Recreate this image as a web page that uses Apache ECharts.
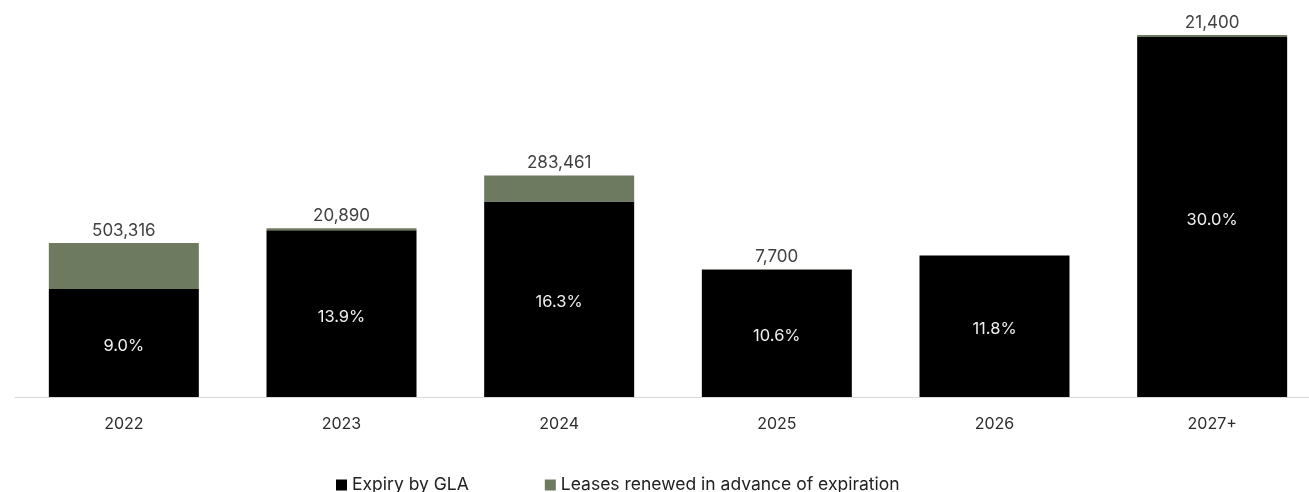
<!DOCTYPE html>
<html>
<head>
<meta charset="utf-8">
<script src="https://cdn.jsdelivr.net/npm/echarts@6/dist/echarts.min.js"></script>
<style>
  html, body { margin: 0; padding: 0; background: #fff; overflow: hidden; }
  /* the plot area runs a little past the right edge of the page */
  #chart { width: 1331px; height: 492px; }
</style>
</head>
<body>
<div id="chart"></div>
<script>
// Lease expiry schedule by year
const years = ['2022', '2023', '2024', '2025', '2026', '2027+'];
// Share of total GLA expiring each year (%)
const expiryPct = [9.0, 13.9, 16.3, 10.6, 11.8, 30.0];
// GLA already renewed ahead of expiration (sq ft); null where none
const renewedSqft = [503316, 20890, 283461, 7700, null, 21400];
// Portfolio GLA used to express renewed area on the same % scale
const totalGLA = 13100000;

const renewedPct = renewedSqft.map(v => v == null ? 0 : v / totalGLA * 100);

const FONT = 'Inter, "Noto Sans", sans-serif';
const chart = echarts.init(document.getElementById('chart'));

chart.setOption({
  animation: false,
  textStyle: { fontFamily: FONT },
  grid: { left: 15, width: 1306, top: 13, bottom: 95, containLabel: false },
  xAxis: {
    type: 'category',
    data: years,
    axisLine: { lineStyle: { color: '#d9d9d9', width: 1 } },
    axisTick: { show: false },
    axisLabel: { color: '#2b2b2b', fontSize: 16, margin: 19, fontFamily: FONT }
  },
  yAxis: {
    type: 'value',
    min: 0,
    max: 32,
    show: false
  },
  legend: {
    left: 331,
    top: 471,
    icon: 'rect',
    itemWidth: 11,
    itemHeight: 11,
    itemGap: 76,
    textStyle: { color: '#222', fontSize: 17.5, fontFamily: FONT },
    data: ['Expiry by GLA', 'Leases renewed in advance of expiration']
  },
  series: [
    {
      name: 'Expiry by GLA',
      type: 'bar',
      stack: 'gla',
      barWidth: 150,
      itemStyle: { color: '#000000' },
      label: {
        show: true,
        position: 'inside',
        offset: [0, 3],
        color: '#f0f0f0',
        fontSize: 16.5,
        fontFamily: FONT,
        formatter: p => p.value.toFixed(1) + '%'
      },
      data: expiryPct
    },
    {
      name: 'Leases renewed in advance of expiration',
      type: 'bar',
      stack: 'gla',
      barWidth: 150,
      itemStyle: { color: '#6e7a60' },
      label: {
        show: true,
        position: 'top',
        distance: 4,
        color: '#404040',
        fontSize: 17,
        fontFamily: FONT,
        formatter: p => {
          const v = renewedSqft[p.dataIndex];
          return v == null ? '' : v.toLocaleString('en-US');
        }
      },
      data: renewedPct
    }
  ]
});
</script>
</body>
</html>
